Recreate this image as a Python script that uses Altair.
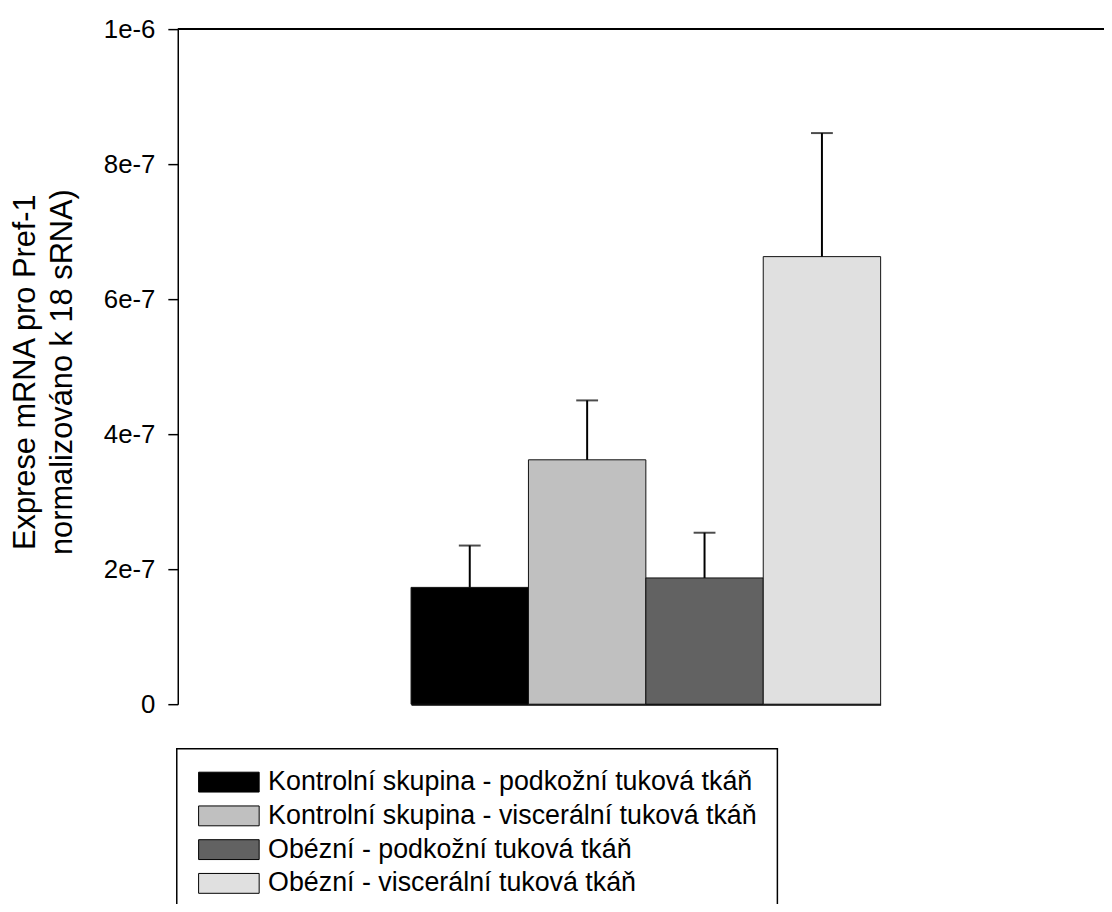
import altair as alt
import pandas as pd

# Data
categories = [
    "Kontrolní skupina - podkožní tuková tkáň",
    "Kontrolní skupina - viscerální tuková tkáň",
    "Obézní - podkožní tuková tkáň",
    "Obézní - viscerální tuková tkáň",
]
means = [1.73e-7, 3.62e-7, 1.87e-7, 6.63e-7]
errors = [0.62e-7, 0.88e-7, 0.67e-7, 1.83e-7]
colors = ["#000000", "#c0c0c0", "#626262", "#e0e0e0"]
y_ticks = [0, 2e-7, 4e-7, 6e-7, 8e-7, 1e-6]
y_max = [1e-6]
y_title = ["Exprese mRNA pro Pref-1", "normalizováno k 18 sRNA)"]

FONT = "Liberation Sans"

df = pd.DataFrame({
    "cat": categories,
    "mean": means,
    "upper": [m + e for m, e in zip(means, errors)],
})
top_df = pd.DataFrame({"top": y_max})

x_scale = alt.Scale(range=[235, 708], paddingInner=0, paddingOuter=0)

x_enc = alt.X(
    "cat:N",
    sort=categories,
    scale=x_scale,
    axis=alt.Axis(
        title=None, labels=False, ticks=False,
        domainColor="black", domainWidth=2,
    ),
)
y_scale = alt.Scale(domain=[0, 1e-6], nice=False, zero=True)

bars = alt.Chart(df).mark_bar(stroke="#111111", strokeWidth=1).encode(
    x=x_enc,
    y=alt.Y(
        "mean:Q",
        scale=y_scale,
        axis=alt.Axis(
            values=y_ticks,
            labelExpr="datum.value == 0 ? '0' : format(datum.value, '.0e')",
            title=y_title,
            titleFontSize=31,
            titleFontWeight="normal",
            titleFont=FONT,
            titleColor="black",
            titleLineHeight=37,
            titleAngle=270,
            titleAlign="center",
            titleBaseline="middle",
            titleX=-153,
            titleY=345,
            labelFontSize=26,
            labelFont=FONT,
            labelColor="black",
            labelPadding=13,
            tickSize=10,
            tickWidth=1.5,
            tickColor="black",
            domainColor="black",
            domainWidth=1.5,
            grid=False,
        ),
    ),
    color=alt.Color(
        "cat:N",
        sort=categories,
        scale=alt.Scale(domain=categories, range=colors),
        legend=alt.Legend(
            title=None,
            orient="none",
            legendX=-1,
            legendY=725,
            padding=20,
            strokeColor="black",
            fillColor="white",
            labelFontSize=27,
            labelFont=FONT,
            labelColor="black",
            labelLimit=0,
            labelOffset=26,
            rowPadding=6,
            symbolType="M-3.05,-1H3.05V1H-3.05Z",
            symbolSize=400,
            symbolOffset=19,
            symbolStrokeColor="black",
            symbolStrokeWidth=1,
            symbolOpacity=1,
        ),
    ),
)

err_rule = alt.Chart(df).mark_rule(color="black", strokeWidth=2).encode(
    x=alt.X("cat:N", sort=categories, scale=x_scale),
    y=alt.Y("mean:Q", scale=y_scale),
    y2="upper:Q",
)

err_cap = alt.Chart(df).mark_tick(color="black", thickness=2, size=22).encode(
    x=alt.X("cat:N", sort=categories, scale=x_scale),
    y=alt.Y("upper:Q", scale=y_scale),
)

top_line = alt.Chart(top_df).mark_rule(color="black", strokeWidth=2).encode(
    y=alt.Y("top:Q", scale=y_scale),
)

chart = (
    alt.layer(bars, err_rule, err_cap, top_line)
    .properties(
        width=933,
        height=680,
        autosize=alt.AutoSizeParams(type="none"),
        padding={"left": 171, "top": 18, "right": 0, "bottom": 198},
        background="white",
    )
    .configure_view(strokeWidth=0)
    .configure_legend(strokeWidth=1.5)
)

chart.save("out.html", embed_options={"renderer": "svg", "actions": False})
